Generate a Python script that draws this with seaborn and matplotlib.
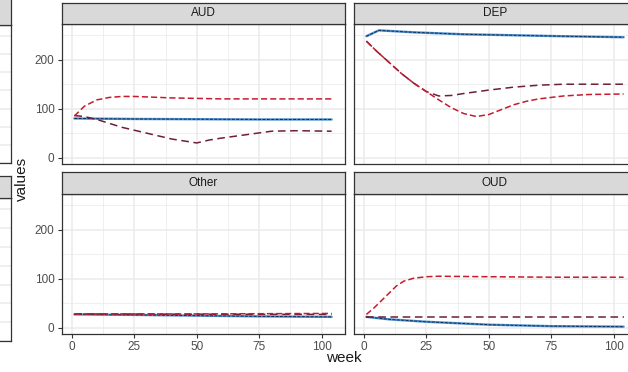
import numpy as np
import pandas as pd
import matplotlib
matplotlib.use("Agg")
import matplotlib.pyplot as plt
import seaborn as sns
from matplotlib.ticker import MultipleLocator

sns.set_theme(style="white")
plt.rcParams['font.family'] = ['Liberation Sans', 'DejaVu Sans']

# ---------------- data ----------------
panels = ["AUD", "DEP", "Other", "OUD"]

aud_wk_blue = [1, 25, 50, 75, 104]
aud_blue = [80, 79, 78.5, 78, 78]
aud_wk_red = [1, 5, 10, 15, 20, 25, 30, 40, 50, 60, 80, 104]
aud_red = [85, 105, 118, 123, 125, 125, 124, 122, 121, 120, 120, 120]
aud_wk_mar = [1, 5, 10, 20, 30, 40, 50, 55, 60, 70, 80, 90, 104]
aud_mar = [86, 84, 78, 62, 50, 38, 30, 36, 40, 47, 54, 55, 54]

dep_wk_blue = [1, 6, 20, 40, 60, 80, 104]
dep_blue = [248, 260, 256, 252, 250, 248, 246]
dep_wk_red = [1, 5, 10, 15, 20, 25, 30, 35, 40, 45, 50, 55, 60, 65, 70, 80, 90, 104]
dep_red = [238, 218, 195, 172, 152, 135, 118, 102, 90, 84, 88, 98, 108, 115, 120, 126, 129, 130]
dep_wk_mar = [1, 5, 10, 15, 20, 25, 30, 35, 40, 50, 60, 70, 80, 104]
dep_mar = [238, 218, 195, 172, 152, 135, 126, 127, 131, 138, 144, 148, 150, 150]

oth_wk_blue = [1, 25, 50, 75, 104]
oth_blue = [27, 26, 24.5, 23, 22]
oth_wk_red = [1, 50, 104]
oth_red = [28, 28, 29]
oth_wk_mar = [1, 50, 104]
oth_mar = [28, 27.5, 27]

oud_wk_blue = [1, 10, 25, 50, 75, 104]
oud_blue = [22, 17, 12, 6, 3, 2]
oud_wk_red = [1, 4, 7, 10, 13, 16, 20, 25, 30, 50, 75, 104]
oud_red = [27, 40, 55, 70, 85, 95, 101, 104, 105, 104, 103, 103]
oud_wk_mar = [1, 50, 104]
oud_mar = [22, 22, 22]

series = {
    "AUD": [(aud_wk_blue, aud_blue, "blue"), (aud_wk_red, aud_red, "red"), (aud_wk_mar, aud_mar, "maroon")],
    "DEP": [(dep_wk_blue, dep_blue, "blue"), (dep_wk_red, dep_red, "red"), (dep_wk_mar, dep_mar, "maroon")],
    "Other": [(oth_wk_blue, oth_blue, "blue"), (oth_wk_red, oth_red, "red"), (oth_wk_mar, oth_mar, "maroon")],
    "OUD": [(oud_wk_blue, oud_blue, "blue"), (oud_wk_red, oud_red, "red"), (oud_wk_mar, oud_mar, "maroon")],
}

rows = []
for p, lst in series.items():
    for wk, vals, s in lst:
        for w, v in zip(wk, vals):
            rows.append({"panel": p, "week": w, "values": v, "series": s})
df = pd.DataFrame(rows)

# ---------------- layout ----------------
W, H = 628, 372
fig = plt.figure(figsize=(W / 100, H / 100), dpi=100)

def px_axes(x0, y0, x1, y1, **kw):
    return fig.add_axes([x0 / W, 1 - y1 / H, (x1 - x0) / W, (y1 - y0) / H], **kw)

BORDER = "#333333"
GRID = "#EBEBEB"

def style_panel(ax):
    ax.set_facecolor("white")
    for s in ax.spines.values():
        s.set_color(BORDER)
        s.set_linewidth(0.9)
    ax.grid(True, which="major", color=GRID, lw=1.1)
    ax.grid(True, which="minor", color=GRID, lw=0.55)
    ax.set_axisbelow(True)

def strip(x0, y0, x1, y1, label):
    sa = px_axes(x0, y0, x1, y1)
    sa.set_facecolor("#D9D9D9")
    for s in sa.spines.values():
        s.set_color(BORDER)
        s.set_linewidth(0.9)
    sa.set_xticks([]); sa.set_yticks([])
    if label:
        sa.text(0.5, 0.5, label, ha="center", va="center", fontsize=8.5,
                color="#1A1A1A", transform=sa.transAxes)
    return sa

# partial left panels (cropped facet)
for (py0, py1, sy0) in [(25, 163, -5), (198, 341, 176)]:
    la = px_axes(-272, py0, 10.5, py1)
    style_panel(la)
    la.set_xlim(0, 1); la.set_ylim(0, 7.6)
    la.yaxis.set_major_locator(MultipleLocator(1))
    la.xaxis.set_major_locator(MultipleLocator(2))
    la.tick_params(left=False, bottom=False, labelleft=False, labelbottom=False)
    strip(-272, sy0, 10.5, py0, "")

# main panels
geom = {
    "AUD": (61.5, 24, 344.5, 164, 3),
    "DEP": (353.5, 24, 636.5, 164, 3),
    "Other": (61.5, 194, 344.5, 334, 172),
    "OUD": (353.5, 194, 636.5, 334, 172),
}

palette = {"blue": "#2F6FB0", "red": "#C51B2F", "maroon": "#6E1F35"}
styles = {"blue": "-", "red": (0, (4, 2)), "maroon": (0, (5, 3))}

for i, p in enumerate(panels):
    x0, y0, x1, y1, sy = geom[p]
    ax = px_axes(x0, y0, x1, y1)
    style_panel(ax)
    sub = df[df.panel == p]
    b = sub[sub.series == "blue"]
    sns.lineplot(data=b, x="week", y="values", ax=ax, color="#4F8FCB", lw=1.7,
                 estimator=None, legend=False)
    sns.lineplot(data=b, x="week", y="values", ax=ax, color="#0E2F5C", lw=0.7,
                 estimator=None, legend=False, linestyle=(0, (3, 1.5)))
    for s in ["maroon", "red"]:
        d = sub[sub.series == s]
        sns.lineplot(data=d, x="week", y="values", ax=ax, color=palette[s], lw=1.1,
                     estimator=None, legend=False, linestyle=styles[s])
    ax.set_xlim(-4.15, 109.15)
    ax.set_ylim(-13, 273)
    ax.xaxis.set_major_locator(MultipleLocator(25))
    ax.xaxis.set_minor_locator(MultipleLocator(12.5))
    ax.yaxis.set_major_locator(MultipleLocator(100))
    ax.yaxis.set_minor_locator(MultipleLocator(50))
    ax.set_xlabel(""); ax.set_ylabel("")
    left_col = i % 2 == 0
    bottom_row = i >= 2
    ax.tick_params(axis="both", which="minor", length=0)
    ax.tick_params(axis="both", which="major", length=3, width=0.8, color=BORDER,
                   labelsize=8.5, labelcolor="#4D4D4D", pad=2)
    ax.tick_params(left=left_col, labelleft=left_col,
                   bottom=bottom_row, labelbottom=bottom_row)
    strip(x0, sy, x1, y0, p)

fig.text(344 / W, 1 - 358 / H, "week", ha="center", va="center", fontsize=11, color="#1A1A1A")
fig.text(22 / W, 1 - 179 / H, "values", ha="center", va="center", fontsize=11,
         rotation=90, color="#1A1A1A")

fig.savefig("out.png", dpi=100)
